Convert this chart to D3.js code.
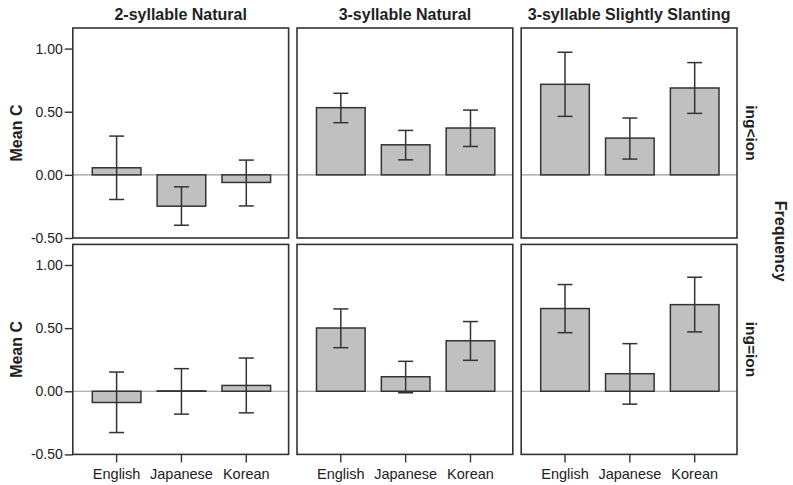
<!DOCTYPE html>
<html>
<head>
<meta charset="utf-8">
<script src="https://cdn.jsdelivr.net/npm/d3@7"></script>
<style>
  body { margin: 0; background: #fff; }
  svg { display: block; font-family: "Liberation Sans", Arial, sans-serif; }
  .tick text { fill: #222; }
</style>
</head>
<body>
<div id="chart"></div>
<script>
// categories and facets
const languages = ["English", "Japanese", "Korean"];
const columns = ["2-syllable Natural", "3-syllable Natural", "3-syllable Slightly Slanting"];
const rows = ["ing<ion", "ing=ion"];
const yTicks = [-0.5, 0, 0.5, 1.0];

// mean C, [column][language]
const meanTop = [[0.056, -0.248, -0.060], [0.532, 0.238, 0.371], [0.717, 0.291, 0.688]];
const lowTop = [[-0.195, -0.399, -0.246], [0.413, 0.119, 0.225], [0.463, 0.125, 0.487]];
const highTop = [[0.307, -0.095, 0.117], [0.646, 0.352, 0.513], [0.971, 0.450, 0.889]];

const meanBottom = [[-0.089, 0.003, 0.046], [0.501, 0.115, 0.400], [0.655, 0.139, 0.686]];
const lowBottom = [[-0.327, -0.181, -0.171], [0.345, -0.012, 0.245], [0.464, -0.102, 0.470]];
const highBottom = [[0.152, 0.179, 0.263], [0.652, 0.237, 0.552], [0.845, 0.377, 0.903]];

const means = [meanTop, meanBottom];
const lows = [lowTop, lowBottom];
const highs = [highTop, highBottom];

let width = 793, height = 485;
let leftX = 72.8, topY = 28;
let panelW = 215.8, panelH = 210;
let stepX = 224.2, stepY = 216.4;

let svg = d3.select("#chart")
    .append("svg")
    .attr("width", width)
    .attr("height", height);

// column titles
columns.forEach(function (c, ci) {
    svg.append("text")
        .attr("x", leftX + ci * stepX + panelW / 2)
        .attr("y", 20)
        .attr("text-anchor", "middle")
        .style("font-size", "16px")
        .style("font-weight", "bold")
        .style("fill", "#222")
        .text(c);
});

rows.forEach(function (r, ri) {
    let y0 = topY + ri * stepY;
    let y = d3.scaleLinear().domain([-0.5, 1.163]).range([y0 + panelH, y0]);

    // y axis label
    svg.append("text")
        .attr("transform", "translate(22," + (y0 + panelH / 2) + ") rotate(-90)")
        .attr("text-anchor", "middle")
        .style("font-size", "16px")
        .style("font-weight", "bold")
        .style("fill", "#222")
        .text("Mean C");

    // row label on the right
    svg.append("text")
        .attr("transform", "translate(746," + (y0 + panelH / 2) + ") rotate(90)")
        .attr("text-anchor", "middle")
        .style("font-size", "15.5px")
        .style("font-weight", "bold")
        .style("fill", "#222")
        .text(r);

    columns.forEach(function (c, ci) {
        let x0 = leftX + ci * stepX;
        let x = d3.scaleBand()
            .domain(languages)
            .range([x0 + 19.5, x0 + panelW - 18])
            .paddingInner(0.25);

        let g = svg.append("g");

        // zero line
        g.append("line")
            .attr("x1", x0).attr("x2", x0 + panelW)
            .attr("y1", y(0)).attr("y2", y(0))
            .style("stroke", "#999")
            .style("stroke-width", 1.2);

        let data = languages.map(function (l, li) {
            return { lang: l, mean: means[ri][ci][li], lo: lows[ri][ci][li], hi: highs[ri][ci][li] };
        });

        g.selectAll("rect.bar")
            .data(data)
            .enter()
            .append("rect")
            .attr("class", "bar")
            .attr("x", function (d) { return x(d.lang); })
            .attr("width", x.bandwidth())
            .attr("y", function (d) { return Math.min(y(d.mean), y(0)); })
            .attr("height", function (d) { return Math.abs(y(d.mean) - y(0)); })
            .style("fill", "#c0c0c0")
            .style("stroke", "#333")
            .style("stroke-width", 1.5);

        // error bars
        let eb = g.selectAll("g.err")
            .data(data)
            .enter()
            .append("g")
            .attr("class", "err")
            .style("stroke", "#333")
            .style("stroke-width", 1.5);
        eb.append("line")
            .attr("x1", function (d) { return x(d.lang) + x.bandwidth() / 2; })
            .attr("x2", function (d) { return x(d.lang) + x.bandwidth() / 2; })
            .attr("y1", function (d) { return y(d.lo); })
            .attr("y2", function (d) { return y(d.hi); });
        eb.append("line")
            .attr("x1", function (d) { return x(d.lang) + x.bandwidth() / 2 - 7.5; })
            .attr("x2", function (d) { return x(d.lang) + x.bandwidth() / 2 + 7.5; })
            .attr("y1", function (d) { return y(d.hi); })
            .attr("y2", function (d) { return y(d.hi); });
        eb.append("line")
            .attr("x1", function (d) { return x(d.lang) + x.bandwidth() / 2 - 7.5; })
            .attr("x2", function (d) { return x(d.lang) + x.bandwidth() / 2 + 7.5; })
            .attr("y1", function (d) { return y(d.lo); })
            .attr("y2", function (d) { return y(d.lo); });

        // frame
        g.append("rect")
            .attr("x", x0).attr("y", y0)
            .attr("width", panelW).attr("height", panelH)
            .style("fill", "none")
            .style("stroke", "#333")
            .style("stroke-width", 1.6);

        if (ci === 0) {
            let ax = svg.append("g")
                .attr("transform", "translate(" + x0 + ",0)")
                .call(d3.axisLeft(y).tickValues(yTicks).tickSize(8).tickPadding(2)
                    .tickFormat(function (d) { return d.toFixed(2); }));
            ax.select(".domain").remove();
            ax.selectAll(".tick line").style("stroke", "#333").style("stroke-width", 1.4);
            ax.selectAll(".tick text").style("font-size", "14px").style("font-family", "Liberation Sans, Arial, sans-serif");
        }
        if (ri === rows.length - 1) {
            let ax = svg.append("g")
                .attr("transform", "translate(0," + (y0 + panelH) + ")")
                .call(d3.axisBottom(x).tickSize(8).tickPadding(6));
            ax.select(".domain").remove();
            ax.selectAll(".tick line").style("stroke", "#333").style("stroke-width", 1.4);
            ax.selectAll(".tick text").style("font-size", "14.5px").style("font-family", "Liberation Sans, Arial, sans-serif");
        }
    });
});

// outer facet label
svg.append("text")
    .attr("transform", "translate(775," + (topY + (stepY + panelH) / 2) + ") rotate(90)")
    .attr("text-anchor", "middle")
    .style("font-size", "16px")
    .style("font-weight", "bold")
    .style("fill", "#222")
    .text("Frequency");
</script>
</body>
</html>
